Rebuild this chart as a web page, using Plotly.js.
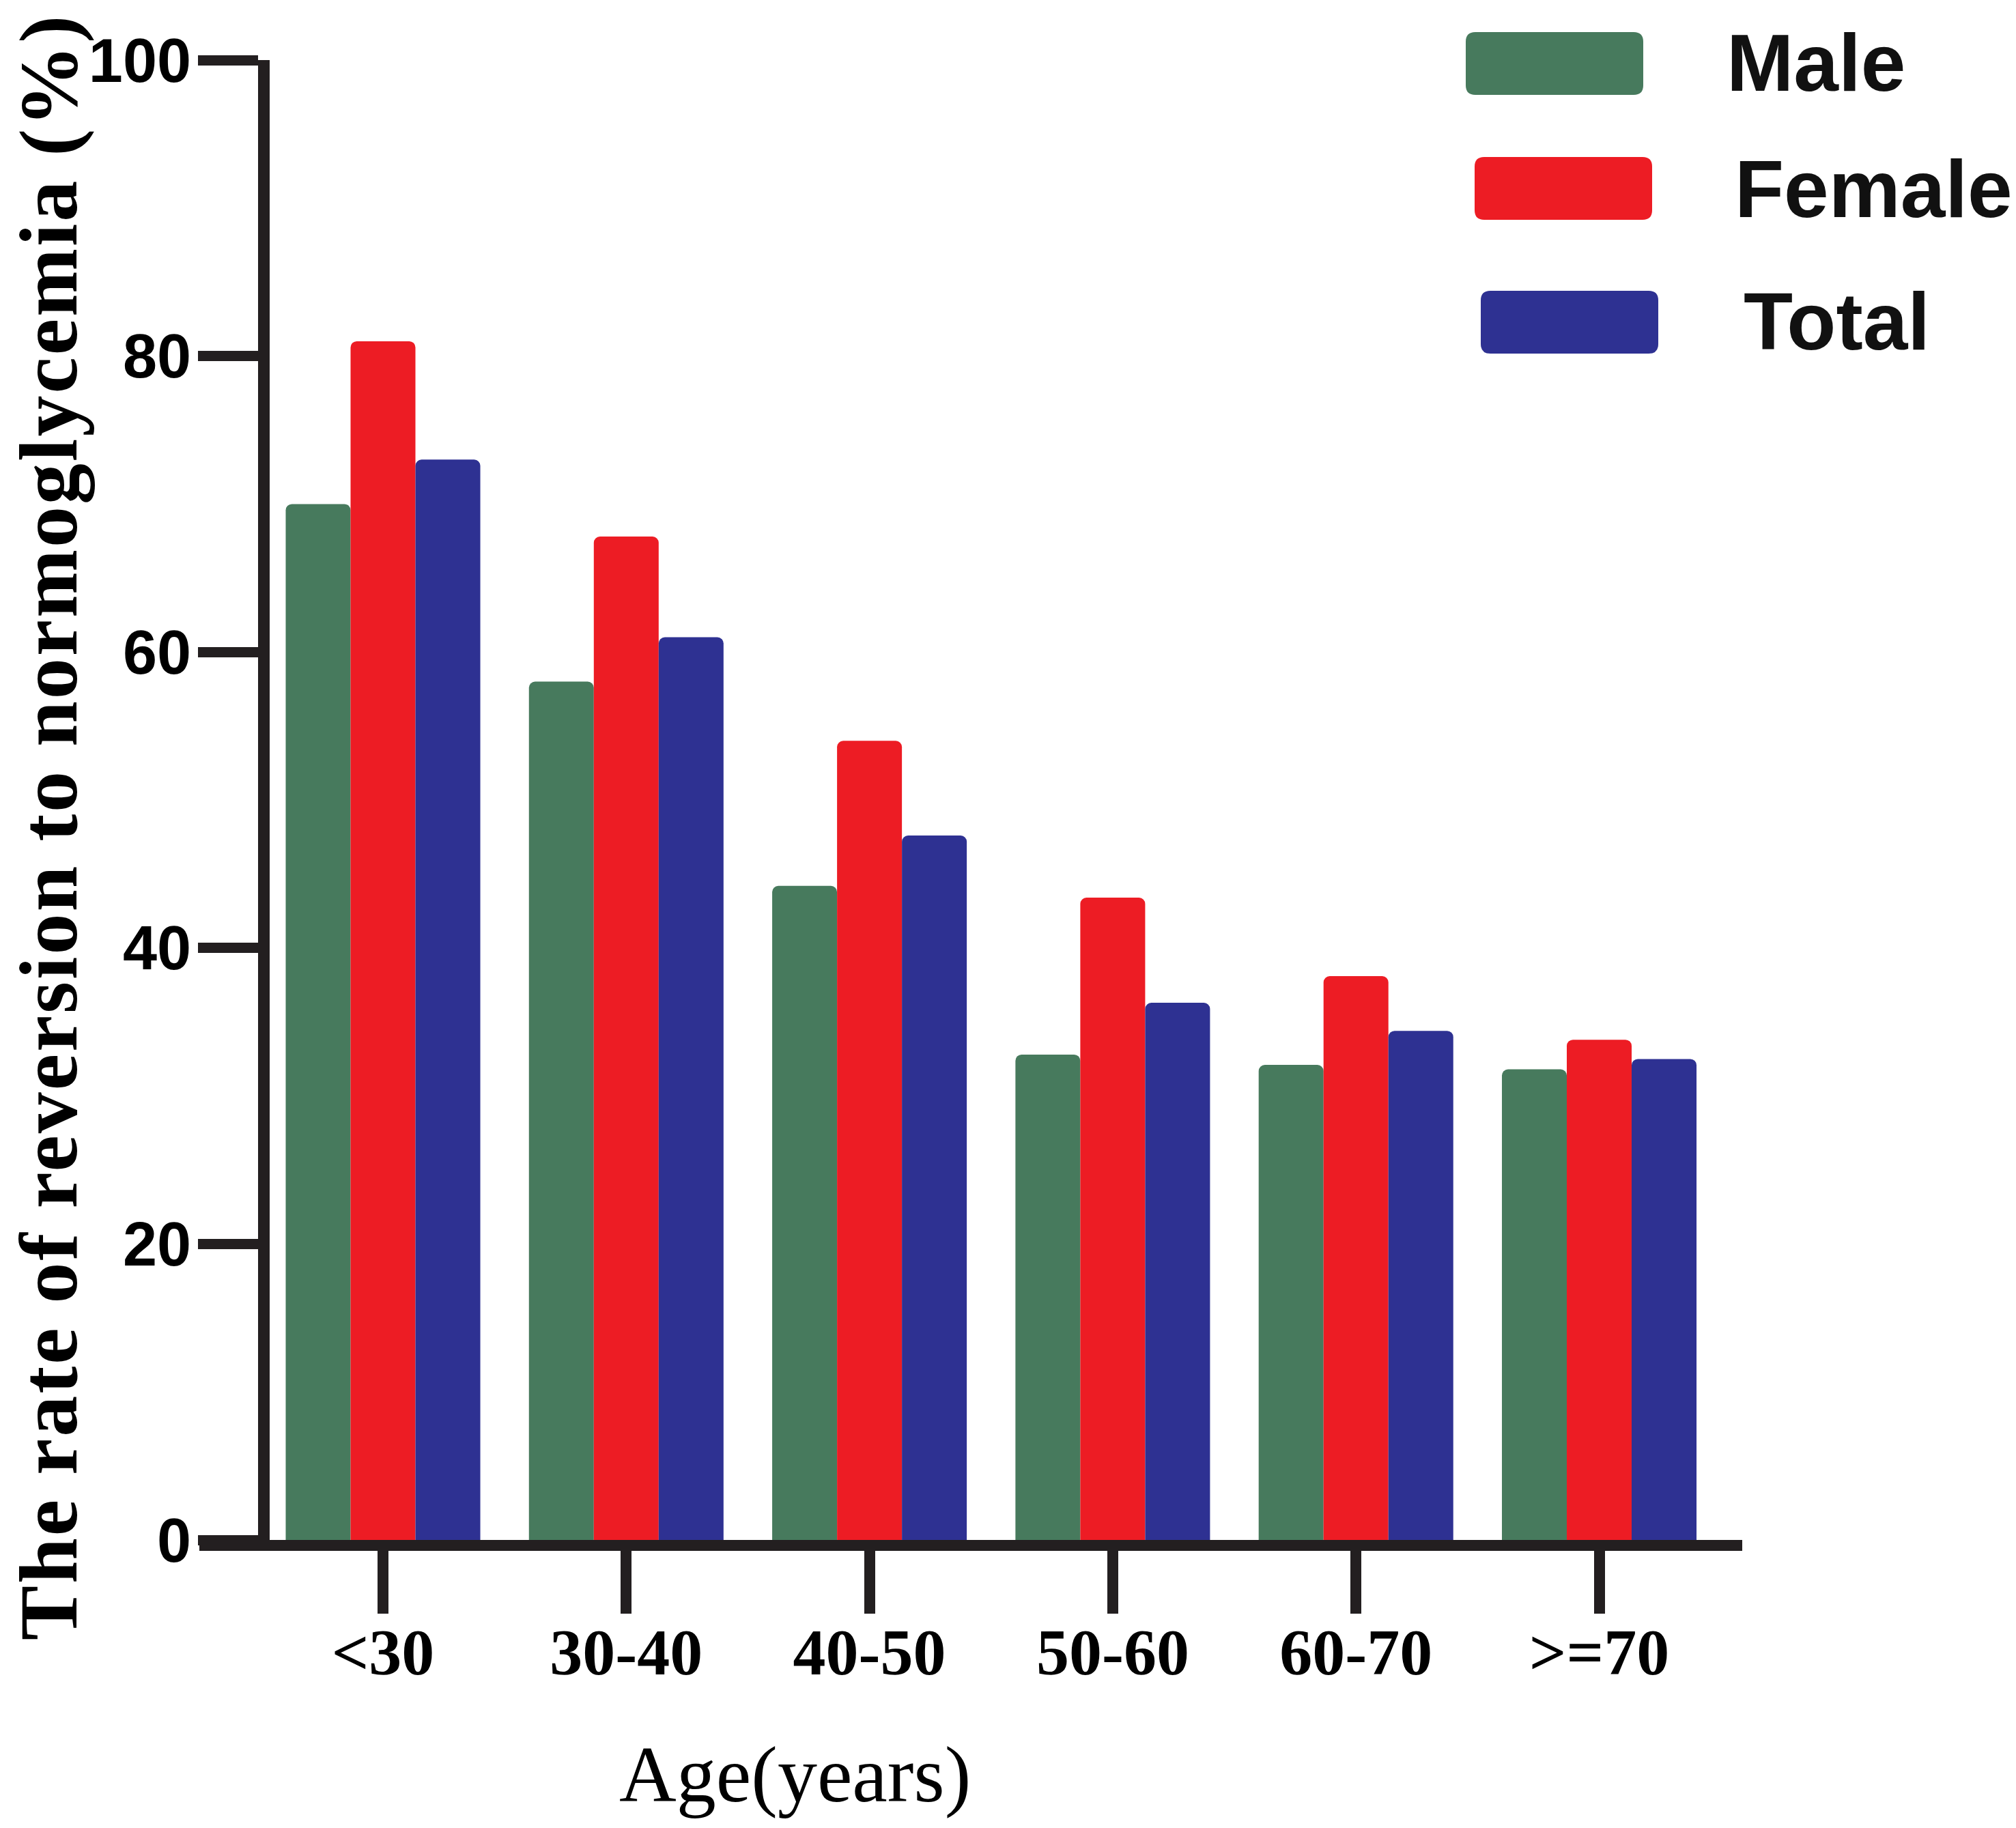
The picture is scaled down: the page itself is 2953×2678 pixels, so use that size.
<!DOCTYPE html>
<html>
<head>
<meta charset="utf-8">
<script src="https://cdn.plot.ly/plotly-3.0.1.min.js"></script>
<style>
  body { margin: 0; background: #fff; }
  #plot { width: 2953px; height: 2678px; }
</style>
</head>
<body>
<div id="plot"></div>
<script>
// Values
var ageGroups = ['<30', '30-40', '40-50', '50-60', '60-70', '>=70'];
var maleRate = [70, 58, 44.2, 32.8, 32.1, 31.8];
var femaleRate = [81, 67.8, 54, 43.4, 38.1, 33.8];
var totalRate = [73, 61, 47.6, 36.3, 34.4, 32.5];
var seriesNames = ['Male', 'Female', 'Total'];
var seriesColors = ['#477a5d', '#ed1c24', '#2e3192'];
var yTicks = [0, 20, 40, 60, 80, 100];

var W = 2953, H = 2678;
var M = {l: 292, r: 401, t: 88, b: 422};
var plotW = W - M.l - M.r;
var plotH = H - M.t - M.b;
var axisColor = '#231f20';

// pixel position -> paper fraction
function px(x) { return (x - M.l) / plotW; }
function py(y) { return (H - M.b - y) / plotH; }

// rounded rectangle path in paper coords, built from pixel box
function roundRect(x0, y0, x1, y1, r) {
  var pts = [
    ['M', x0 + r, y0], ['L', x1 - r, y0], ['Q', x1, y0, x1, y0 + r],
    ['L', x1, y1 - r], ['Q', x1, y1, x1 - r, y1], ['L', x0 + r, y1],
    ['Q', x0, y1, x0, y1 - r], ['L', x0, y0 + r], ['Q', x0, y0, x0 + r, y0]
  ];
  var d = pts.map(function (p) {
    var s = p[0];
    for (var i = 1; i < p.length; i += 2) {
      s += (i > 1 ? ' ' : '') + px(p[i]).toFixed(5) + ',' + py(p[i + 1]).toFixed(5);
    }
    return s;
  }).join(' ');
  return d + ' Z';
}

var rates = [maleRate, femaleRate, totalRate];
var data = rates.map(function (vals, i) {
  return {
    type: 'bar',
    x: ageGroups,
    y: vals,
    name: seriesNames[i],
    marker: {color: seriesColors[i], cornerradius: 9, line: {width: 0}},
    hoverinfo: 'skip'
  };
});

// legend drawn by hand: big rounded swatches like the original figure
var swatchX = [2147, 2160, 2169];
var swatchY = [47, 230, 426];
var labelX = [2527, 2539, 2552];
var labelY = [92, 277, 471];

var shapes = seriesNames.map(function (n, i) {
  return {
    type: 'path',
    xref: 'paper', yref: 'paper',
    path: roundRect(swatchX[i], swatchY[i], swatchX[i] + 260, swatchY[i] + 92, 14),
    fillcolor: seriesColors[i],
    line: {width: 0}
  };
});

var annotations = seriesNames.map(function (n, i) {
  return {
    xref: 'paper', yref: 'paper',
    x: px(labelX[i]), y: py(labelY[i]),
    xanchor: 'left', yanchor: 'middle',
    text: n, showarrow: false,
    font: {family: 'Liberation Sans, Arial, sans-serif', size: 118, weight: 'bold', color: '#111'}
  };
});

annotations.push({
  xref: 'paper', yref: 'paper',
  x: px(72), y: py(1212),
  xanchor: 'center', yanchor: 'middle',
  textangle: -90,
  text: 'The rate of reversion to normoglycemia (%)',
  showarrow: false,
  font: {family: 'Liberation Serif, Times New Roman, serif', size: 120, weight: 'bold', color: '#000'}
});

annotations.push({
  xref: 'paper', yref: 'paper',
  x: px(1164), y: py(2600),
  xanchor: 'center', yanchor: 'middle',
  text: 'Age(years)',
  showarrow: false,
  font: {family: 'Liberation Serif, Times New Roman, serif', size: 116, color: '#000'}
});

var layout = {
  width: W,
  height: H,
  margin: M,
  paper_bgcolor: '#fff',
  plot_bgcolor: 'rgba(0,0,0,0)',
  showlegend: false,
  barmode: 'group',
  bargap: 0.2,
  bargroupgap: 0,
  xaxis: {
    type: 'category',
    range: [-0.755, 5.588],
    showgrid: false,
    zeroline: false,
    showline: true,
    linecolor: axisColor,
    linewidth: 16,
    ticks: 'outside',
    ticklen: 92,
    tickwidth: 16,
    tickcolor: axisColor,
    ticklabelstandoff: -26,
    tickfont: {family: 'Liberation Serif, Times New Roman, serif', size: 96, weight: 'bold', color: '#000'}
  },
  yaxis: {
    range: [0, 100],
    anchor: 'free',
    position: px(386),
    tickmode: 'array',
    tickvals: yTicks,
    ticktext: yTicks.map(String),
    showgrid: false,
    zeroline: false,
    showline: true,
    linecolor: axisColor,
    linewidth: 17,
    ticks: 'outside',
    ticklen: 88,
    tickwidth: 15,
    tickcolor: axisColor,
    ticklabelstandoff: -8,
    tickfont: {family: 'Liberation Sans Narrow, Liberation Sans, Arial, sans-serif', size: 90, weight: 'bold', color: '#000'}
  },
  shapes: shapes,
  annotations: annotations
};

Plotly.newPlot('plot', data, layout, {displayModeBar: false, staticPlot: true}).then(function (gd) {
  // the original axis title is set a little letter-spaced
  var texts = gd.querySelectorAll('.annotation-text');
  texts.forEach(function (t) {
    if (t.textContent.indexOf('normoglycemia') >= 0) t.style.letterSpacing = '3px';
  });
});
</script>
</body>
</html>
